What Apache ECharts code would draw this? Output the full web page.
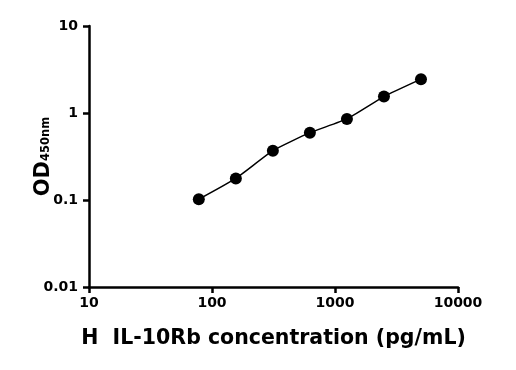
<!DOCTYPE html>
<html><head><meta charset="utf-8">
<script src="https://cdn.jsdelivr.net/npm/echarts@6/dist/echarts.min.js"></script>
<style>html,body{margin:0;padding:0;background:#fff}#c{width:516px;height:370px}</style>
</head><body><div id="c"></div>
<script>
const concentrations = [78.125, 156.25, 312.5, 625, 1250, 2500, 5000];
const odValues = [0.102, 0.177, 0.369, 0.594, 0.855, 1.545, 2.45];
const xTitle = 'H  IL-10Rb concentration (pg/mL)';
const yTitleMain = 'OD';
const yTitleSub = '450nm';

const pts = concentrations.map((c, i) => [c, odValues[i]]);
const chart = echarts.init(document.getElementById('c'));
const font = 'DejaVu Sans';
chart.setOption({
  animation: false,
  grid: {left: 89, right: 58, top: 26, bottom: 83},
  xAxis: {
    type: 'log', min: 10, max: 10000, logBase: 10,
    name: xTitle, nameLocation: 'middle', nameGap: 41, nameMoveOverlap: false,
    nameTextStyle: {fontFamily: font, fontWeight: 'bold', fontSize: 20.5, color: '#000'},
    axisLine: {lineStyle: {color: '#000', width: 2.5}},
    axisTick: {length: 6, lineStyle: {color: '#000', width: 2.5}},
    axisLabel: {fontFamily: font, fontWeight: 'bold', fontSize: 14, color: '#000', margin: 9,
      formatter: v => String(Math.round(v))},
    splitLine: {show: false}, minorTick: {show: false}
  },
  yAxis: {
    type: 'log', min: 0.01, max: 10, logBase: 10,
    name: '{a|' + yTitleMain + '}{b|' + yTitleSub + '}', nameLocation: 'middle', nameGap: 33, nameMoveOverlap: false,
    nameTextStyle: {color: '#000', rich: {
      a: {fontFamily: font, fontWeight: 'bold', fontSize: 21, color: '#000', lineHeight: 24},
      b: {fontFamily: font, fontWeight: 'bold', fontSize: 11.5, color: '#000', lineHeight: 24, verticalAlign: 'bottom', padding: [0,0,4,0]}
    }},
    axisLine: {lineStyle: {color: '#000', width: 2.5}},
    axisTick: {length: 6, lineStyle: {color: '#000', width: 2.5}},
    axisLabel: {fontFamily: font, fontWeight: 'bold', fontSize: 14, color: '#000', margin: 11,
      formatter: v => { const r = Math.round(v*100)/100; return String(r); }},
    splitLine: {show: false}, minorTick: {show: false}
  },
  series: [{
    type: 'line', data: pts, smooth: 0.15,
    symbol: 'circle', symbolSize: 12,
    itemStyle: {color: '#000'},
    lineStyle: {color: '#000', width: 1.5}
  }]
});
</script></body></html>
